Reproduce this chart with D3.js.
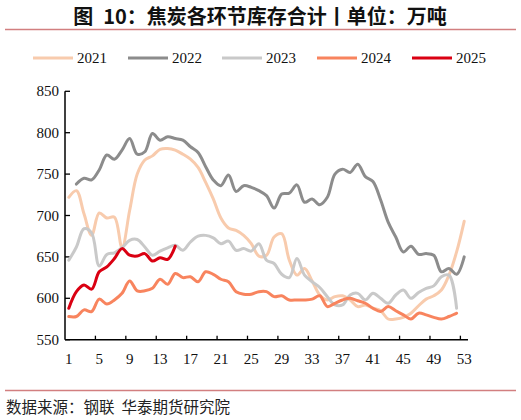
<!DOCTYPE html>
<html>
<head>
<meta charset="utf-8">
<script src="https://cdn.jsdelivr.net/npm/d3@7"></script>
<style>
  body { margin: 0; background: #fff; }
  svg { display: block; }
</style>
</head>
<body>
<svg id="chart" width="521" height="420"></svg>
<script>
// weeks 1..53
const weeks = d3.range(1, 54);
const xTickWeeks = [1, 5, 9, 13, 17, 21, 25, 29, 33, 37, 41, 45, 49, 53];
const yTicks = [550, 600, 650, 700, 750, 800, 850];

const s2021 = [722, 730, 702, 676, 703, 697, 698, 661, 706, 750, 767, 772, 780, 781, 779, 774, 768, 758, 740, 720,
  697, 685, 682, 676, 666, 651, 652, 674, 678, 646, 628, 636, 621, 604, 598, 602, 603, 598, 590, 592,
  588, 585, 575, 575, 577, 582, 591, 599, 603, 610, 628, 656, 693];
const s2022 = [null, 738, 745, 743, 755, 773, 768, 779, 793, 774, 777, 799, 791, 795, 793, 791, 783, 776, 759, 743,
  736, 749, 729, 736, 734, 730, 724, 709, 726, 727, 737, 716, 720, 713, 722, 750, 756, 752, 762, 747,
  741, 719, 692, 674, 656, 663, 653, 654, 652, 632, 636, 629, 650];
const s2023 = [646, 662, 684, 679, 639, 653, 655, 661, 670, 671, 662, 652, 657, 661, 664, 658, 668, 675, 676, 673,
  666, 669, 658, 660, 657, 666, 646, 642, 629, 625, 648, 628, 620, 613, 602, 592, 592, 604, 606, 598,
  606, 600, 594, 604, 610, 600, 607, 612, 615, 626, 628, 588];
const s2024 = [578, 578, 586, 584, 599, 593, 598, 606, 621, 609, 609, 612, 623, 617, 630, 625, 626, 620, 632, 629,
  623, 620, 608, 605, 605, 608, 608, 602, 603, 598, 598, 598, 599, 603, 590, 594, 598, 600, 597, 594,
  588, 584, 590, 585, 580, 575, 582, 580, 577, 575, 578, 582];
const s2025 = [588, 608, 616, 611, 632, 638, 648, 660, 652, 651, 654, 645, 649, 647, 663];

const seriesNames = ["2021", "2022", "2023", "2024", "2025"];
const seriesValues = [s2021, s2022, s2023, s2024, s2025];
const colors = ["#f8cbad", "#8c8c8c", "#c9c9c9", "#f8845e", "#da0012"];

const svg = d3.select("#chart");
const serif = "'Liberation Serif', 'Times New Roman', serif";
const cjk = "'Noto Sans CJK SC', sans-serif";

// title + rules
svg.append("text")
  .attr("x", 260).attr("y", 24)
  .attr("text-anchor", "middle")
  .style("font-family", cjk).style("font-weight", "bold").style("font-size", "20px")
  .attr("fill", "#111")
  .text("图\u200210：焦炭各环节库存合计丨单位：万吨");
svg.append("line").attr("x1", 5).attr("x2", 516).attr("y1", 29.5).attr("y2", 29.5)
  .attr("stroke", "#d27f80").attr("stroke-width", 1.5);
svg.append("line").attr("x1", 5).attr("x2", 516).attr("y1", 390.5).attr("y2", 390.5)
  .attr("stroke", "#d27f80").attr("stroke-width", 1.5);
svg.append("text")
  .attr("x", 6).attr("y", 413)
  .style("font-family", cjk).style("font-size", "15.5px")
  .attr("fill", "#222")
  .text("数据来源：钢联\u00a0\u00a0华泰期货研究院");

// legend
const legend = svg.append("g");
const legX = [33, 128, 222, 317, 412];
seriesNames.forEach((n, i) => {
  legend.append("line")
    .attr("x1", legX[i]).attr("x2", legX[i] + 40)
    .attr("y1", 58).attr("y2", 58)
    .attr("stroke", colors[i]).attr("stroke-width", 3);
  legend.append("text")
    .attr("x", legX[i] + 44).attr("y", 63)
    .style("font-family", serif).style("font-size", "15px")
    .attr("fill", "#111")
    .text(n);
});

// scales
const x = d3.scaleBand().domain(weeks).range([65, 468]);
const y = d3.scaleLinear().domain([550, 850]).range([339.7, 91.3]);
const cx = w => x(w) + x.bandwidth() / 2;

// y axis
const yAxis = svg.append("g");
yAxis.append("line").attr("x1", 65).attr("x2", 65).attr("y1", y(850)).attr("y2", y(550))
  .attr("stroke", "#000").attr("stroke-width", 1.5);
yTicks.forEach(t => {
  yAxis.append("line").attr("x1", 65).attr("x2", 70).attr("y1", y(t)).attr("y2", y(t))
    .attr("stroke", "#000").attr("stroke-width", 1.3);
  yAxis.append("text")
    .attr("x", 59).attr("y", y(t) + 5)
    .attr("text-anchor", "end")
    .style("font-family", serif).style("font-size", "15px")
    .attr("fill", "#111")
    .text(t);
});

// x axis
const xAxis = svg.append("g");
xAxis.append("line").attr("x1", 65).attr("x2", 468).attr("y1", y(550)).attr("y2", y(550))
  .attr("stroke", "#000").attr("stroke-width", 1.5);
xTickWeeks.slice(1).forEach(w => {
  xAxis.append("line").attr("x1", x(w)).attr("x2", x(w)).attr("y1", y(550)).attr("y2", y(550) - 4)
    .attr("stroke", "#000").attr("stroke-width", 1.3);
});
xTickWeeks.forEach(w => {
  xAxis.append("text")
    .attr("x", cx(w)).attr("y", 364)
    .attr("text-anchor", "middle")
    .style("font-family", serif).style("font-size", "15px")
    .attr("fill", "#111")
    .text(w);
});

// lines
const line = d3.line()
  .defined(d => d.v != null)
  .x(d => cx(d.w))
  .y(d => y(d.v))
  .curve(d3.curveCatmullRom.alpha(0.5));

seriesValues.forEach((vals, i) => {
  const pts = vals.map((v, j) => ({w: weeks[j], v: v}));
  svg.append("path")
    .datum(pts)
    .attr("d", line)
    .attr("fill", "none")
    .attr("stroke", colors[i])
    .attr("stroke-width", 3)
    .attr("stroke-linejoin", "round")
    .attr("stroke-linecap", "round");
});
</script>
</body>
</html>
